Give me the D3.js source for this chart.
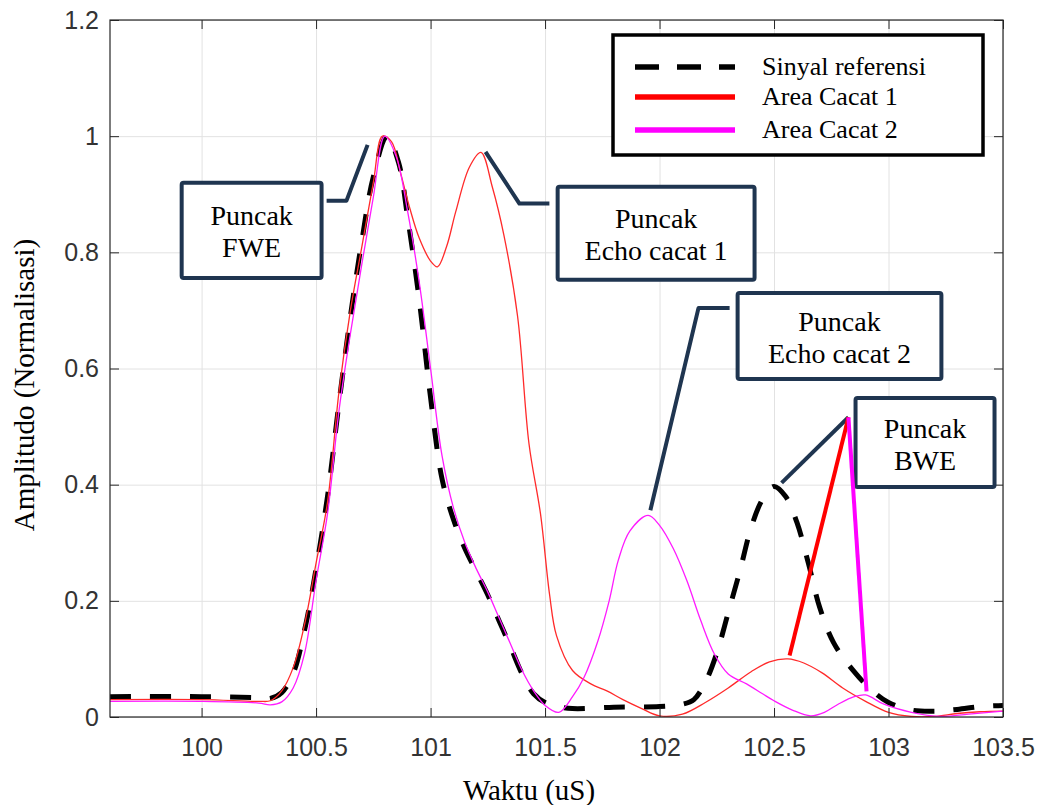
<!DOCTYPE html>
<html>
<head>
<meta charset="utf-8">
<script src="https://cdn.jsdelivr.net/npm/d3@7"></script>
<style>
  body { margin: 0; background: #fff; }
  svg { display: block; }
</style>
</head>
<body>
<div id="chart"></div>
<script>
// data (time in uS, normalised amplitude)
var refTime = [99.6, 100.0, 100.25, 100.3, 100.35, 100.4, 100.45, 100.5, 100.55, 100.6, 100.65, 100.7, 100.75, 100.81, 100.86, 100.9, 100.95, 101.0, 101.05, 101.1, 101.15, 101.2, 101.25, 101.3, 101.35, 101.4, 101.45, 101.5, 101.6, 101.8, 102.0, 102.1, 102.15, 102.2, 102.25, 102.3, 102.35, 102.4, 102.45, 102.5, 102.55, 102.6, 102.65, 102.7, 102.76, 102.85, 102.93, 103.0, 103.1, 103.2, 103.3, 103.4, 103.5];
var refAmp = [0.035, 0.035, 0.033, 0.032, 0.042, 0.075, 0.15, 0.255, 0.38, 0.54, 0.69, 0.82, 0.93, 1.0, 0.955, 0.86, 0.72, 0.55, 0.41, 0.34, 0.29, 0.25, 0.21, 0.165, 0.12, 0.074, 0.04, 0.025, 0.015, 0.017, 0.018, 0.022, 0.03, 0.06, 0.11, 0.18, 0.25, 0.326, 0.375, 0.397, 0.38, 0.335, 0.265, 0.188, 0.128, 0.078, 0.045, 0.025, 0.012, 0.01, 0.013, 0.018, 0.02];

var cacat1Time = [99.6, 100.0, 100.25, 100.3, 100.35, 100.4, 100.45, 100.5, 100.55, 100.6, 100.65, 100.7, 100.75, 100.79, 100.83, 100.87, 100.91, 100.95, 101.0, 101.03, 101.07, 101.11, 101.17, 101.22, 101.27, 101.32, 101.38, 101.43, 101.48, 101.52, 101.55, 101.62, 101.7, 101.77, 101.84, 101.92, 102.0, 102.1, 102.2, 102.3, 102.4, 102.48, 102.56, 102.63, 102.71, 102.8, 102.9, 103.0, 103.1, 103.2, 103.3, 103.4, 103.5];
var cacat1Amp = [0.03, 0.03, 0.027, 0.028, 0.045, 0.085, 0.16, 0.265, 0.37, 0.56, 0.7, 0.81, 0.92, 1.0, 0.99, 0.935, 0.875, 0.825, 0.785, 0.775, 0.81, 0.87, 0.947, 0.972, 0.912, 0.83, 0.69, 0.47, 0.35, 0.21, 0.14, 0.08, 0.057, 0.045, 0.03, 0.015, 0.002, 0.005, 0.025, 0.05, 0.078, 0.095, 0.1, 0.093, 0.076, 0.05, 0.027, 0.008, 0.001, 0.001, 0.006, 0.009, 0.01];

var cacat2Time = [99.6, 100.0, 100.25, 100.3, 100.35, 100.4, 100.45, 100.5, 100.55, 100.6, 100.65, 100.7, 100.75, 100.8, 100.85, 100.9, 100.95, 101.0, 101.05, 101.1, 101.15, 101.2, 101.25, 101.3, 101.35, 101.4, 101.45, 101.5, 101.56, 101.62, 101.67, 101.73, 101.78, 101.82, 101.87, 101.95, 102.0, 102.06, 102.12, 102.18, 102.24, 102.3, 102.38, 102.45, 102.5, 102.58, 102.66, 102.72, 102.78, 102.85, 102.9, 102.98, 103.1, 103.23, 103.35, 103.5];
var cacat2Amp = [0.027, 0.027, 0.024, 0.021, 0.026, 0.05, 0.11, 0.235, 0.35, 0.527, 0.66, 0.78, 0.895, 1.0, 0.965, 0.87, 0.75, 0.6, 0.45, 0.36, 0.3, 0.255, 0.215, 0.17, 0.125, 0.08, 0.045, 0.02, 0.008, 0.035, 0.068, 0.13, 0.2, 0.27, 0.32, 0.347, 0.33, 0.29, 0.234, 0.166, 0.108, 0.074, 0.057, 0.04, 0.028, 0.012, 0.002, 0.008, 0.022, 0.035, 0.038, 0.022, 0.008, 0.001, 0.005, 0.01];

var xTicks = [100, 100.5, 101, 101.5, 102, 102.5, 103, 103.5];
var xTickLabels = ["100", "100.5", "101", "101.5", "102", "102.5", "103", "103.5"];
var yTicks = [0, 0.2, 0.4, 0.6, 0.8, 1, 1.2];
var yTickLabels = ["0", "0.2", "0.4", "0.6", "0.8", "1", "1.2"];

var seriesNames = ["Sinyal referensi", "Area Cacat 1", "Area Cacat 2"];

var svgWidth = 1045;
var svgHeight = 805;
var margin = {top: 20, right: 42, bottom: 88, left: 110};
var chartWidth = svgWidth - margin.left - margin.right;
var chartHeight = svgHeight - margin.top - margin.bottom;

var serif = "Liberation Serif, Times New Roman, serif";
var sans = "Liberation Sans, Arial, Helvetica, sans-serif";
var navy = "#1f3550";

var svg = d3.select("#chart").append("svg")
  .attr("width", svgWidth)
  .attr("height", svgHeight);

var chartGroup = svg.append("g")
  .attr("transform", `translate(${margin.left}, ${margin.top})`);

var xScale = d3.scaleLinear().domain([99.6, 103.5]).range([0, chartWidth]);
var yScale = d3.scaleLinear().domain([0, 1.2]).range([chartHeight, 0]);

// grid
chartGroup.append("g")
  .attr("transform", `translate(0, ${chartHeight})`)
  .call(d3.axisBottom(xScale).tickValues(xTicks).tickSize(-chartHeight).tickFormat(""))
  .call(g => g.select(".domain").remove())
  .call(g => g.selectAll("line").attr("stroke", "#e2e2e2").attr("stroke-width", 1));
chartGroup.append("g")
  .call(d3.axisLeft(yScale).tickValues(yTicks).tickSize(-chartWidth).tickFormat(""))
  .call(g => g.select(".domain").remove())
  .call(g => g.selectAll("line").attr("stroke", "#e2e2e2").attr("stroke-width", 1));

// curves
var lineGen = d3.line()
  .x(d => xScale(d[0]))
  .y(d => yScale(d[1]))
  .curve(d3.curveCatmullRom.alpha(0.5));

svg.append("defs").append("clipPath").attr("id", "plotClip")
  .append("rect").attr("width", chartWidth).attr("height", chartHeight);

var curves = chartGroup.append("g").attr("clip-path", "url(#plotClip)");

curves.append("path")
  .datum(d3.zip(refTime, refAmp))
  .attr("d", lineGen)
  .attr("fill", "none")
  .attr("stroke", "#000")
  .attr("stroke-width", 5)
  .attr("stroke-dasharray", "21,19");

curves.append("path")
  .datum(d3.zip(cacat1Time, cacat1Amp))
  .attr("d", lineGen)
  .attr("fill", "none")
  .attr("stroke", "#ff2a2a")
  .attr("stroke-width", 1.3);

curves.append("path")
  .datum(d3.zip(cacat2Time, cacat2Amp))
  .attr("d", lineGen)
  .attr("fill", "none")
  .attr("stroke", "#ff1aff")
  .attr("stroke-width", 1.3);

// axes (ticks point inward, box all round)
function styleAxis(g) {
  g.select(".domain").remove();
  g.selectAll(".tick line").attr("stroke", "#262626");
  g.selectAll(".tick text")
    .style("font-family", sans)
    .attr("font-size", 25)
    .attr("fill", "#333");
}

chartGroup.append("g")
  .attr("transform", `translate(0, ${chartHeight})`)
  .call(d3.axisBottom(xScale).tickValues(xTicks)
    .tickSizeInner(-9).tickSizeOuter(0).tickPadding(21)
    .tickFormat((d, i) => xTickLabels[i]))
  .call(styleAxis);
chartGroup.append("g")
  .call(d3.axisLeft(yScale).tickValues(yTicks)
    .tickSizeInner(-9).tickSizeOuter(0).tickPadding(11)
    .tickFormat((d, i) => yTickLabels[i]))
  .call(styleAxis);
chartGroup.append("g")
  .call(d3.axisTop(xScale).tickValues(xTicks).tickSizeInner(-9).tickSizeOuter(0).tickFormat(""))
  .call(styleAxis);
chartGroup.append("g")
  .attr("transform", `translate(${chartWidth}, 0)`)
  .call(d3.axisRight(yScale).tickValues(yTicks).tickSizeInner(-9).tickSizeOuter(0).tickFormat(""))
  .call(styleAxis);

chartGroup.append("rect")
  .attr("width", chartWidth)
  .attr("height", chartHeight)
  .attr("fill", "none")
  .attr("stroke", "#262626")
  .attr("stroke-width", 1.2);

// axis titles
svg.append("text")
  .attr("x", 529)
  .attr("y", 800)
  .attr("text-anchor", "middle")
  .style("font-family", serif)
  .attr("font-size", 29)
  .text("Waktu (uS)");

svg.append("text")
  .attr("transform", "translate(34, 385) rotate(-90)")
  .attr("text-anchor", "middle")
  .style("font-family", serif)
  .attr("font-size", 29)
  .text("Amplitudo (Normalisasi)");

// callouts
var callouts = [
  {lines: ["Puncak", "FWE"], box: [99.913, 100.524, 0.92, 0.756],
   pointer: [[100.546, 0.889], [100.633, 0.889], [100.725, 0.985]]},
  {lines: ["Puncak", "Echo cacat 1"], box: [101.555, 102.415, 0.913, 0.753],
   pointer: [[101.519, 0.884], [101.388, 0.884], [101.24, 0.973]]},
  {lines: ["Puncak", "Echo cacat 2"], box: [102.341, 103.231, 0.73, 0.582],
   pointer: [[102.306, 0.704], [102.17, 0.704], [101.96, 0.356]]},
  {lines: ["Puncak", "BWE"], box: [102.856, 103.463, 0.549, 0.396],
   pointer: [[102.825, 0.516], [102.533, 0.403]]}
];

var annot = chartGroup.append("g");
callouts.forEach(c => {
  annot.append("path")
    .attr("d", d3.line().x(p => xScale(p[0])).y(p => yScale(p[1]))(c.pointer))
    .attr("fill", "none")
    .attr("stroke", navy)
    .attr("stroke-width", 4)
    .attr("stroke-linejoin", "round");
  var bx = xScale(c.box[0]), by = yScale(c.box[2]);
  var bw = xScale(c.box[1]) - bx, bh = yScale(c.box[3]) - by;
  annot.append("rect")
    .attr("x", bx).attr("y", by)
    .attr("width", bw).attr("height", bh)
    .attr("rx", 2)
    .attr("fill", "#fff")
    .attr("stroke", navy)
    .attr("stroke-width", 4);
  c.lines.forEach((t, i) => {
    annot.append("text")
      .attr("x", bx + bw / 2)
      .attr("y", by + bh / 2 - 5 + i * 32)
      .attr("text-anchor", "middle")
      .style("font-family", serif)
      .attr("font-size", 28)
      .attr("fill", "#000")
      .text(t);
  });
});

// coloured BWE pointers
var bweHub = [102.825, 0.516];
var bweTips = [
  {tip: [102.568, 0.106], color: "#ff0000"},
  {tip: [102.904, 0.044], color: "#ff00ff"}
];
bweTips.forEach(b => {
  annot.append("line")
    .attr("x1", xScale(bweHub[0])).attr("y1", yScale(bweHub[1]))
    .attr("x2", xScale(b.tip[0])).attr("y2", yScale(b.tip[1]))
    .attr("stroke", b.color)
    .attr("stroke-width", 4);
});

// legend
var legend = svg.append("g").attr("transform", "translate(613, 35)");
legend.append("rect")
  .attr("width", 370).attr("height", 120)
  .attr("fill", "#fff")
  .attr("stroke", "#000")
  .attr("stroke-width", 3.5);

var legendStyles = [
  {color: "#000", dash: "24,18"},
  {color: "#ff0000", dash: null},
  {color: "#ff00ff", dash: null}
];
var legendRows = [32, 62, 95];

seriesNames.forEach((name, i) => {
  legend.append("line")
    .attr("x1", 22).attr("x2", 122)
    .attr("y1", legendRows[i]).attr("y2", legendRows[i])
    .attr("stroke", legendStyles[i].color)
    .attr("stroke-width", 5.5)
    .attr("stroke-dasharray", legendStyles[i].dash);
  legend.append("text")
    .attr("x", 149)
    .attr("y", legendRows[i] + 8)
    .style("font-family", serif)
    .attr("font-size", 26)
    .attr("fill", "#000")
    .text(name);
});
</script>
</body>
</html>
